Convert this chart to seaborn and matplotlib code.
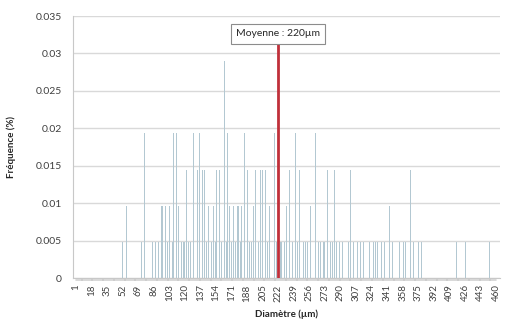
import numpy as np
import pandas as pd
import matplotlib
matplotlib.use("Agg")
import matplotlib.pyplot as plt
import seaborn as sns
from matplotlib.ticker import FuncFormatter, FixedLocator

# ---- data ----
diam_min, diam_max = 1, 460
unit = 1 / 207  # one particle

ones = [52, 73, 85, 88, 91, 101, 106, 116, 118, 120, 124, 126, 131, 144, 149, 153,
        160, 165, 171, 175, 181, 191, 193, 200, 210, 213, 220, 224, 226, 229, 236,
        238, 243, 248, 250, 252, 254, 260, 266, 268, 271, 273, 279, 281, 286, 289,
        292, 295, 299, 304, 309, 312, 315, 319, 322, 326, 328, 331, 335, 338, 347,
        355, 359, 361, 370, 375, 379, 417, 427, 453]
twos = [56, 94, 96, 99, 103, 113, 146, 151, 169, 173, 177, 179, 182, 195, 212,
        231, 257, 307, 344, 389]
threes = [122, 134, 139, 141, 155, 158, 188, 197, 203, 205, 208, 234, 245, 276,
          284, 301, 367]
fours = [76, 108, 111, 129, 136, 167, 185, 218, 241, 263]
sixes = [163]

mean_pos = 222
mean_label = "Moyenne : 220µm"
tick_labels = list(range(1, 461, 17))

counts = {}
for lst, k in [(ones, 1), (twos, 2), (threes, 3), (fours, 4), (sixes, 6)]:
    for d in lst:
        counts[d] = k
diam = np.arange(diam_min, diam_max + 1)
freq = np.array([counts.get(d, 0) * unit for d in diam])
df = pd.DataFrame({"Diametre": diam, "Frequence": freq})

# ---- plot ----
sns.set_theme(style="white")
plt.rcParams["font.family"] = ["Lato", "DejaVu Sans"]

fig = plt.figure(figsize=(5.05, 3.32), dpi=100)
ax = fig.add_axes([73 / 505, 54 / 332, 427 / 505, 262 / 332])

sns.barplot(data=df, x="Diametre", y="Frequence", native_scale=True,
            color="#b3c8d2", width=1.0, linewidth=0, saturation=1, ax=ax, zorder=2)

ax.set_xlim(1 - 3.3, 460 + 4.4)
ax.set_ylim(0, 0.035)
ax.set_yticks(np.arange(0, 0.0351, 0.005))
ax.yaxis.set_major_formatter(FuncFormatter(lambda v, p: "0" if abs(v) < 1e-12 else f"{v:.3f}".rstrip("0")))
ax.grid(axis="y", color="#d9d9d9", linewidth=1, zorder=0)
ax.set_axisbelow(True)

ax.xaxis.set_major_locator(FixedLocator(tick_labels))
ax.set_xticklabels([str(t) for t in tick_labels], rotation=90, fontsize=7, color="#404040")
ax.xaxis.set_minor_locator(FixedLocator(list(diam)))
ax.tick_params(axis="x", which="both", direction="out", length=2.5, width=0.35,
               color="#a8a8a8", bottom=True, pad=2)
ax.tick_params(axis="y", length=0, labelsize=7.5, labelcolor="#404040", pad=8)

for s in ["top", "right"]:
    ax.spines[s].set_visible(False)
for s in ["left", "bottom"]:
    ax.spines[s].set_color("#c8c8c8")
    ax.spines[s].set_linewidth(0.8)

ax.set_xlabel("Diamètre (µm)", fontsize=7, fontweight="bold", color="#262626", labelpad=6)
ax.set_ylabel("Fréquence (%)", fontsize=7, fontweight="bold", color="#262626", labelpad=14)

# mean line and label
ax.plot([mean_pos, mean_pos], [0, 0.0312], color="#c0303a", linewidth=2.0, zorder=4)
ax.text(mean_pos, 0.0326, mean_label, ha="center", va="center", fontsize=7.5, color="#262626",
        zorder=5, bbox=dict(boxstyle="square,pad=0.5", fc="white", ec="#8c8c8c", lw=0.8))

fig.savefig("out.png", dpi=100)
